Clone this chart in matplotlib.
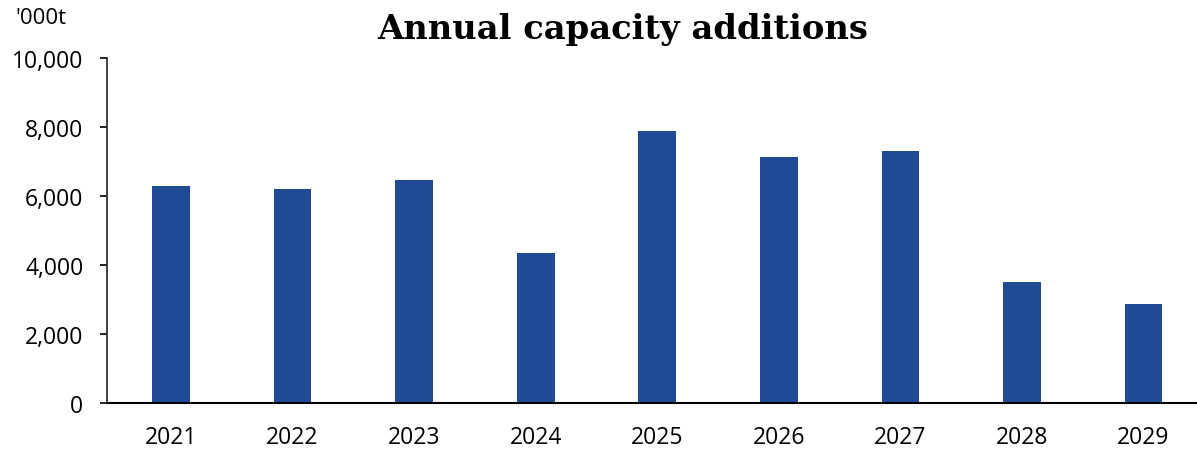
import matplotlib
matplotlib.use("Agg")
import matplotlib.pyplot as plt
from matplotlib.ticker import FuncFormatter

years = ["2021", "2022", "2023", "2024", "2025", "2026", "2027", "2028", "2029"]
capacity = [6280, 6190, 6450, 4360, 7870, 7120, 7310, 3500, 2870]

plt.rcParams['font.family'] = ['Open Sans', 'DejaVu Sans']

W, H = 1197, 452
fig = plt.figure(figsize=(W / 100, H / 100), dpi=100)
ax = fig.add_axes([107 / W, (H - 404) / H, 1 - 107 / W, (404 - 59) / H])

x = list(range(len(years)))
ax.bar(x, capacity, width=0.31, color="#214A96")

ax.set_xlim(-0.526, 8.44)
ax.set_ylim(0, 10000)
ax.set_yticks(range(0, 10001, 2000))
ax.yaxis.set_major_formatter(FuncFormatter(lambda v, p: f"{int(v):,}"))
ax.set_xticks(x)
ax.set_xticklabels(years)

for s in ["top", "right"]:
    ax.spines[s].set_visible(False)
ax.spines["left"].set_linewidth(1.2)
ax.spines["left"].set_color("#222222")
ax.spines["bottom"].set_linewidth(1.5)
ax.spines["bottom"].set_color("black")

ax.tick_params(axis="y", length=5, width=1.2, direction="out", pad=12, labelsize=16.5, colors="black")
ax.tick_params(axis="x", length=0, pad=16, labelsize=16.5)

fig.text(15 / W, (H - 19) / H, "'000t", fontsize=16, ha="left", va="center")
fig.text(623 / W, (H - 29) / H, "Annual capacity additions", fontsize=24.3,
         fontweight="bold", family=["DejaVu Serif"], ha="center", va="center")

fig.savefig("out.png", dpi=100)
